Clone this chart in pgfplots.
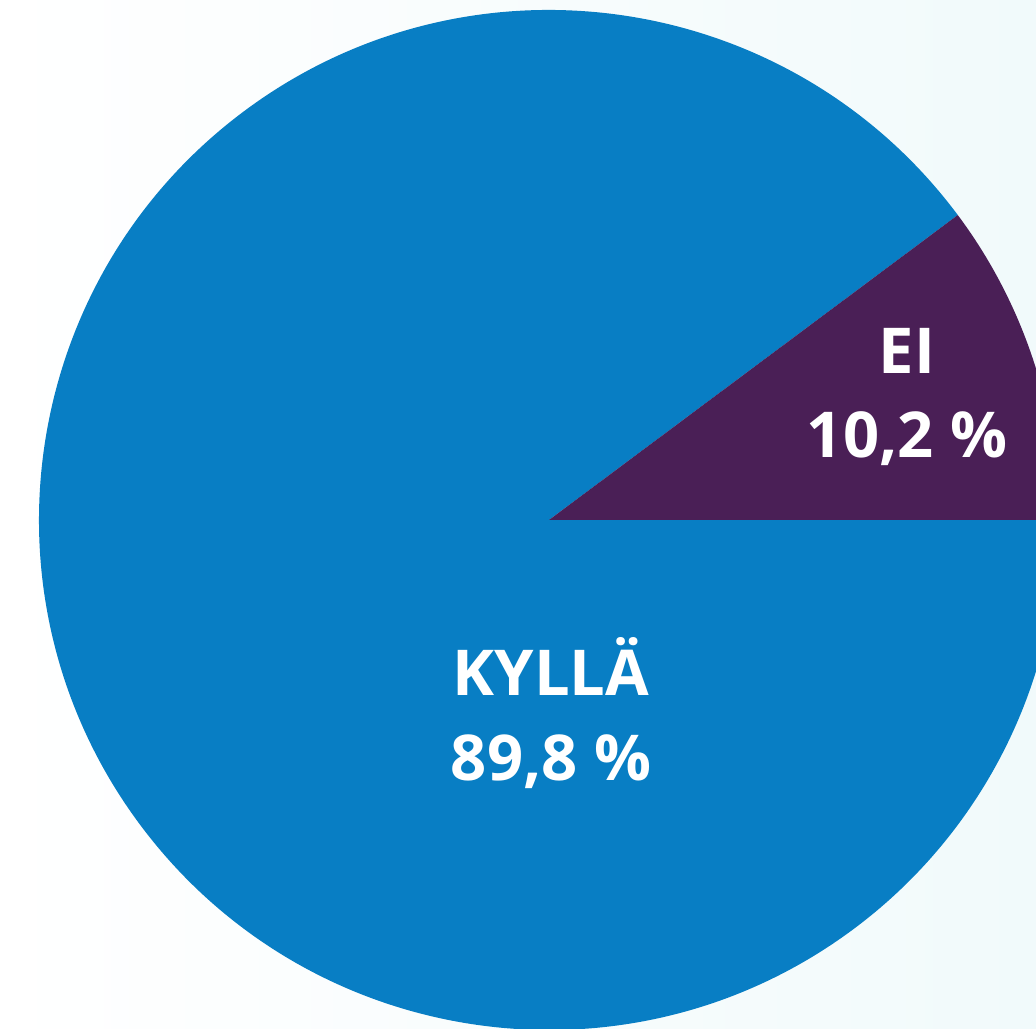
\documentclass[border=0pt]{standalone}
\usepackage{fontspec}
\setmainfont{Open Sans}
\usepackage{pgfplots}
\pgfplotsset{compat=1.18}
\definecolor{kyllaBlue}{HTML}{087EC4}
\definecolor{eiPurple}{HTML}{4A1F56}
\definecolor{bgCyan}{HTML}{F1FAFB}
\begin{document}
\begin{tikzpicture}
\def\kylla{89.8}
\def\ei{10.2}
\begin{axis}[
  scale only axis, width=10.36cm, height=10.29cm,
  xmin=0, xmax=1036, ymin=0, ymax=1029,
  hide axis, clip=true,
]
\fill[left color=white, right color=bgCyan] (axis cs:0,0) rectangle (axis cs:1036,1029);
\pgfmathsetmacro{\angEi}{\ei*3.6}
\fill[kyllaBlue] (axis cs:549,509) -- ++(\angEi:5.1cm) arc[start angle=\angEi, end angle=360, radius=5.1cm] -- cycle;
\fill[eiPurple] (axis cs:549,509) -- ++(0:5.1cm) arc[start angle=0, end angle=\angEi, radius=5.1cm] -- cycle;
\node[text=white, font=\fontsize{18}{24}\selectfont\bfseries, align=center] at (axis cs:551,316) {KYLLÄ\\89,8 \%};
\node[text=white, font=\fontsize{18}{24}\selectfont\bfseries, align=center] at (axis cs:907,632) {EI\\10,2 \%};
\end{axis}
\end{tikzpicture}
\end{document}
